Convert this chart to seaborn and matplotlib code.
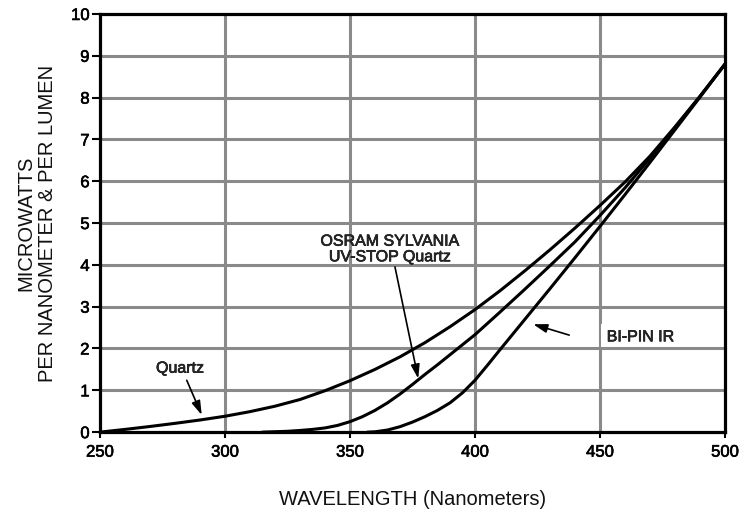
import matplotlib
matplotlib.use("Agg")
import matplotlib.pyplot as plt
import matplotlib.patheffects as pe
import seaborn as sns
import pandas as pd

# --- data ---
quartz_x = [250, 260, 270, 280, 290, 300, 310, 320, 330, 340, 350, 360, 370, 380, 390,
            400, 410, 420, 430, 440, 450, 460, 470, 480, 490, 500]
quartz_y = [0.0, 0.065, 0.135, 0.21, 0.29, 0.38, 0.49, 0.62, 0.78, 0.99, 1.23, 1.5, 1.8, 2.14, 2.52,
            2.93, 3.38, 3.86, 4.36, 4.88, 5.42, 5.98, 6.6, 7.3, 8.03, 8.8]

uvstop_x = [315, 320, 325, 330, 335, 340, 345, 350, 355, 360, 365, 370, 375, 380, 385, 390, 395,
            400, 410, 420, 430, 440, 450, 460, 470, 480, 490, 500]
uvstop_y = [0.0, 0.01, 0.02, 0.04, 0.065, 0.1, 0.16, 0.25, 0.37, 0.52, 0.7, 0.91, 1.14, 1.38, 1.61,
            1.85, 2.09, 2.33, 2.87, 3.42, 3.98, 4.55, 5.18, 5.84, 6.55, 7.28, 8.03, 8.8]

bipin_x = [357, 360, 365, 370, 375, 380, 385, 390, 395, 400, 405, 410, 420, 430, 440, 450,
           460, 470, 480, 490, 500]
bipin_y = [0.0, 0.008, 0.05, 0.13, 0.24, 0.37, 0.52, 0.7, 0.94, 1.24, 1.6, 1.97, 2.7, 3.43, 4.17,
           4.92, 5.68, 6.45, 7.23, 8.01, 8.8]

series_names = ["Quartz", "UV-STOP", "BI-PIN IR"]
x_ticks = [250, 300, 350, 400, 450, 500]
y_ticks = list(range(0, 11))

df = pd.concat([
    pd.DataFrame({"wl": quartz_x, "val": quartz_y, "lamp": series_names[0]}),
    pd.DataFrame({"wl": uvstop_x, "val": uvstop_y, "lamp": series_names[1]}),
    pd.DataFrame({"wl": bipin_x, "val": bipin_y, "lamp": series_names[2]}),
])

sns.set_theme(style="white")
plt.rcParams["font.family"] = ["Liberation Sans", "DejaVu Sans"]

fig = plt.figure(figsize=(7.39, 5.12), dpi=100)
ax = fig.add_subplot(111)
fig.subplots_adjust(left=0.1353, right=0.981, top=0.9727, bottom=0.156)

grid_color = "#8a8a8a"
for xv in x_ticks[1:-1]:
    ax.axvline(xv, color=grid_color, lw=2.2, zorder=0.5)
for yv in y_ticks[1:-1]:
    ax.axhline(yv, color=grid_color, lw=2.2, zorder=1.5)

sns.lineplot(data=df, x="wl", y="val", units="lamp", estimator=None, sort=False,
             color="black", linewidth=2.2, ax=ax, zorder=3)

medium = [pe.withStroke(linewidth=0.45, foreground="black")]

ax.set_xlim(250, 500)
ax.set_ylim(0, 10)
ax.set_xticks(x_ticks)
ax.set_yticks(y_ticks)
ax.set_xticklabels([str(v) for v in x_ticks], fontsize=12, path_effects=medium)
ax.set_yticklabels([str(v) for v in y_ticks], fontsize=12, path_effects=medium)
ax.tick_params(axis="x", which="both", bottom=True, length=4.5, width=1.5, pad=4.5,
               color="black", labelcolor="black")
ax.tick_params(axis="y", which="both", left=True, length=6, width=1.5, pad=1.5,
               color="black", labelcolor="black")
for s in ax.spines.values():
    s.set_color("black")
    s.set_linewidth(2.3)
    s.set_visible(True)

ax.set_xlabel("WAVELENGTH (Nanometers)", fontsize=14.5, labelpad=22, color="#111111")
ax.set_ylabel("MICROWATTS\nPER NANOMETER & PER LUMEN", fontsize=14.5, labelpad=10,
              color="#111111")

arrow = dict(arrowstyle="-|>,head_length=0.7,head_width=0.22", color="black", lw=1.2,
             shrinkA=0, shrinkB=0)

ax.text(282, 1.53, "Quartz", fontsize=11.5, ha="center", va="center", zorder=5,
        path_effects=medium)
ax.annotate("", xy=(290.7, 0.41), xytext=(284.7, 1.24), arrowprops=arrow, zorder=5)

ax.text(366, 4.38, "OSRAM SYLVANIA\nUV-STOP Quartz", fontsize=11.5,
        ha="center", va="center", linespacing=1.05, zorder=5, path_effects=medium)
ax.annotate("", xy=(377.3, 1.28), xytext=(368, 3.95), arrowprops=arrow, zorder=5)

ax.text(452.7, 2.28, "BI-PIN IR", fontsize=11.5, ha="left", va="center",
        zorder=1, path_effects=medium,
        bbox=dict(boxstyle="square,pad=0.35", fc="white", ec="none"))
ax.annotate("", xy=(423.3, 2.58), xytext=(437.7, 2.32), arrowprops=arrow, zorder=5)

leg = ax.get_legend()
if leg is not None:
    leg.remove()

fig.savefig("out.png", dpi=100)
